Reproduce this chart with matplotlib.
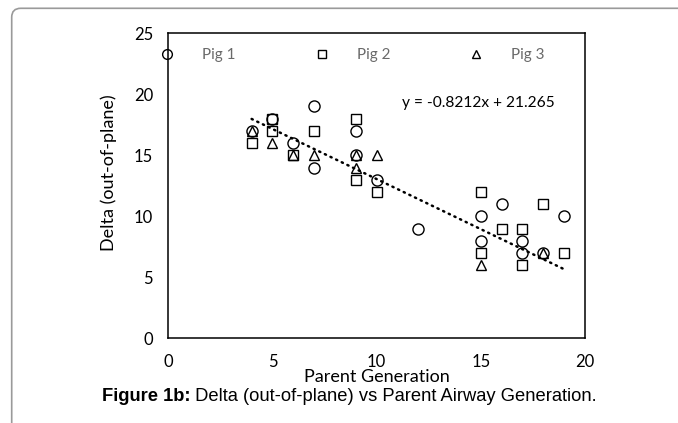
import numpy as np
import matplotlib
matplotlib.use('Agg')
import matplotlib.pyplot as plt
from matplotlib.lines import Line2D
from matplotlib.patches import FancyBboxPatch
from matplotlib.transforms import IdentityTransform

# Pig 1 (circles)
pig1_gen = [4, 5, 6, 7, 7, 9, 9, 10, 12, 15, 15, 16, 17, 17, 18, 19]
pig1_delta = [17, 18, 16, 19, 14, 17, 15, 13, 9, 10, 8, 11, 8, 7, 7, 10]
# Pig 2 (squares)
pig2_gen = [4, 5, 5, 6, 7, 9, 9, 10, 15, 15, 16, 17, 17, 18, 19]
pig2_delta = [16, 18, 17, 15, 17, 18, 13, 12, 12, 7, 9, 9, 6, 11, 7]
# Pig 3 (triangles)
pig3_gen = [4, 5, 6, 7, 9, 9, 10, 15, 18]
pig3_delta = [17, 16, 15, 15, 15, 14, 15, 6, 7]

trend_slope = -0.8212
trend_intercept = 21.265
trend_label = 'y = -0.8212x + 21.265'

x_ticks = [0, 5, 10, 15, 20]
y_ticks = [0, 5, 10, 15, 20, 25]

plt.rcParams['font.family'] = ['Lato', 'DejaVu Sans']

fig = plt.figure(figsize=(6.78, 4.23), dpi=100)
ax = fig.add_axes([0.2482, 0.2002, 0.6146, 0.7211])

# outer rounded frame of the figure panel
frame = FancyBboxPatch((11.7, -30), 720, 444.7, boxstyle='round,pad=0,rounding_size=9',
                       transform=IdentityTransform(), fill=False, edgecolor='#9a9a9a', lw=1.2)
fig.patches.append(frame)

mk = dict(linestyle='none', markerfacecolor='none', markeredgecolor='black', markeredgewidth=1.0)
ax.plot(pig1_gen, pig1_delta, marker='o', markersize=8, **mk)
ax.plot(pig2_gen, pig2_delta, marker='s', markersize=7.5, **mk)
ax.plot(pig3_gen, pig3_delta, marker='^', markersize=7.5, **mk)

all_gen = pig1_gen + pig2_gen + pig3_gen
xs = np.array([min(all_gen), max(all_gen)])
ax.plot(xs, trend_slope * xs + trend_intercept, color='black', lw=1.8,
        linestyle=(0, (0.5, 2.0)), dash_capstyle='round')

ax.text(0.745, 0.77, trend_label, transform=ax.transAxes, ha='center', va='center',
        fontsize=11.2, color='black')

handles = [
    Line2D([], [], marker='o', markersize=7, **mk),
    Line2D([], [], marker='s', markersize=6, **mk),
    Line2D([], [], marker='^', markersize=6, **mk),
]
leg = ax.legend(handles, ['Pig 1', 'Pig 2', 'Pig 3'], loc='center left',
                bbox_to_anchor=(-0.0206, 0.929), ncol=3, frameon=False,
                handlelength=1.0, handletextpad=1.77, columnspacing=5.15,
                borderpad=0, borderaxespad=0, fontsize=11)
for t in leg.get_texts():
    t.set_color('#6a6a6a')

ax.set_xlim(0, 20)
ax.set_ylim(0, 25)
ax.set_xticks(x_ticks)
ax.set_yticks(y_ticks)
ax.tick_params(length=0, labelsize=12, pad=11)
for s in ax.spines.values():
    s.set_linewidth(1.1)
    s.set_color('black')

ax.set_xlabel('Parent Generation', fontsize=13)
ax.xaxis.set_label_coords(0.5, -0.10)
ax.set_ylabel('Delta (out-of-plane)', fontsize=13)
ax.yaxis.set_label_coords(-0.123, 0.542)

cap1 = fig.text(102 / 678, 1 - 401 / 423, 'Figure 1b:', fontsize=13.2, fontweight='bold',
                family='Liberation Sans', ha='left', va='baseline')
ax.annotate(' Delta (out-of-plane) vs Parent Airway Generation.', xy=(1, 0), xycoords=cap1,
            va='bottom', ha='left', fontsize=13.2, family='Liberation Sans',
            annotation_clip=False)

fig.savefig('out.png', dpi=100)
